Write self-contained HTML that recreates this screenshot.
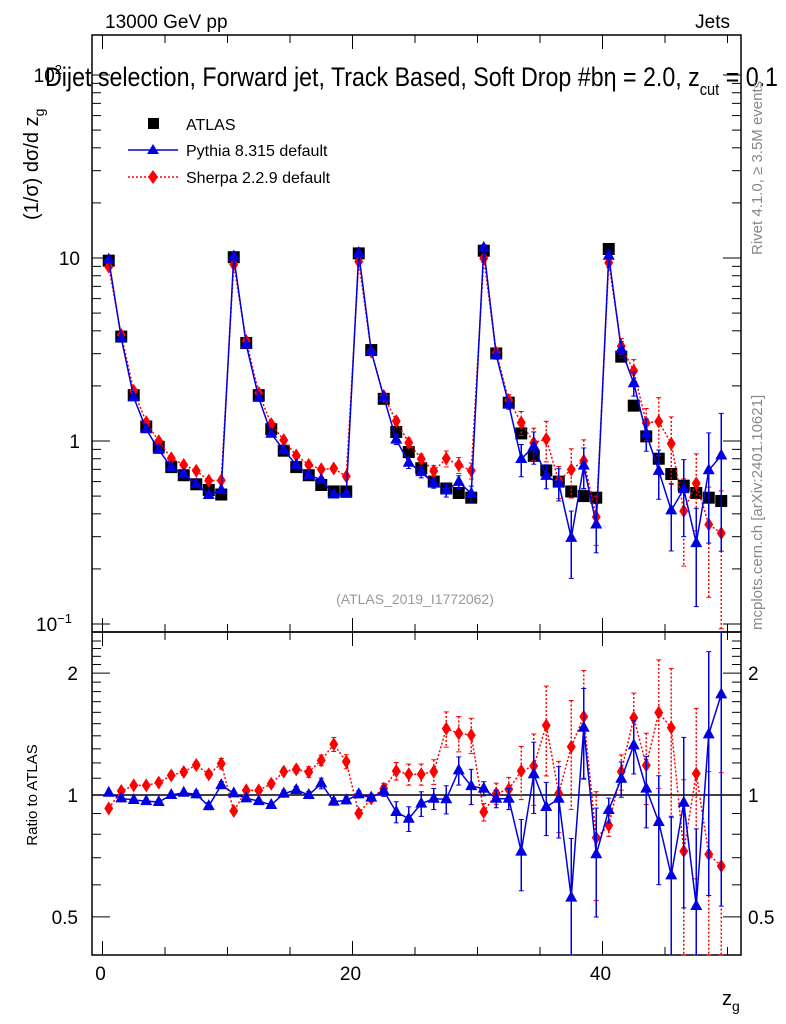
<!DOCTYPE html>
<html><head><meta charset="utf-8"><style>
body{margin:0;background:#fff;}
svg{display:block;font-family:"Liberation Sans",sans-serif;}
</style></head><body>
<svg id="c" width="786" height="1024" viewBox="0 0 786 1024">
<rect x="0" y="0" width="786" height="1024" fill="#fff"/>
<g id="frames"></g>
<g id="marks"></g>
<g id="texts">
<text x="105" y="28" font-size="19">13000 GeV pp</text>
<text x="730" y="28" font-size="19" text-anchor="end">Jets</text>
<text x="0" y="0" font-size="27" transform="translate(45,86) scale(0.86,1)">Dijet selection, Forward jet, Track Based, Soft Drop #bη = 2.0, z<tspan dy="9" font-size="17">cut</tspan><tspan dy="-9"> = 0.1</tspan></text>
<text x="0" y="0" font-size="20" transform="translate(38,220) rotate(-90)">(1/σ) dσ/d z<tspan dy="6" font-size="14">g</tspan></text>
<text x="0" y="0" font-size="15" fill="#888" transform="translate(762,255) rotate(-90)">Rivet 4.1.0, ≥ 3.5M events</text>
<text x="0" y="0" font-size="15" fill="#888" transform="translate(762,630) rotate(-90)">mcplots.cern.ch [arXiv:2401.10621]</text>
<text x="415" y="604" font-size="14" fill="#999" text-anchor="middle">(ATLAS_2019_I1772062)</text>
<text x="0" y="0" font-size="15" text-anchor="middle" transform="translate(37,795) rotate(-90)">Ratio to ATLAS</text>
<text x="722" y="1005" font-size="20">z<tspan dy="6" font-size="14">g</tspan></text>
<g>
<rect x="148" y="118" width="11" height="11" fill="#000"/>
<text x="186" y="130" font-size="16">ATLAS</text>
<line x1="128" y1="150" x2="178" y2="150" stroke="#0000e0" stroke-width="1.5"/>
<path d="M153,144 L159,154 L147,154Z" fill="#0000e0"/>
<text x="186" y="156" font-size="16">Pythia 8.315 default</text>
<line x1="128" y1="177" x2="178" y2="177" stroke="#f00" stroke-width="1.5" stroke-dasharray="2,2"/>
<path d="M153,170 L158,177 L153,184 L148,177Z" fill="#f00"/>
<text x="186" y="183" font-size="16">Sherpa 2.2.9 default</text>
</g>
</g>
</svg>
<script>
const atlas=[9.67,3.72,1.78,1.20,0.93,0.72,0.65,0.58,0.54,0.51,
10.1,3.43,1.78,1.16,0.885,0.72,0.65,0.575,0.53,0.53,
10.6,3.14,1.70,1.12,0.87,0.71,0.60,0.55,0.52,0.49,
10.96,3.01,1.62,1.10,0.83,0.69,0.60,0.53,0.50,0.49,
11.2,2.89,1.56,1.06,0.80,0.66,0.57,0.52,0.49,0.47];
const pythiaRatio=[1.013,0.981,0.972,0.966,0.961,1.0,1.013,1.004,0.939,1.058,
1.009,0.981,0.966,0.945,1.008,1.029,1.0,1.068,0.963,0.970,
1.004,0.985,1.023,0.908,0.874,0.952,0.979,0.976,1.150,1.052,
1.037,0.979,0.979,0.725,1.125,0.934,0.979,0.558,1.466,0.714,
0.918,1.097,1.326,1.037,0.858,0.633,0.957,0.532,1.412,1.772];
const sherpaRatio=[0.927,1.023,1.056,1.056,1.073,1.118,1.140,1.186,1.125,1.195,
0.913,1.027,1.027,1.066,1.142,1.157,1.140,1.218,1.334,1.209,
0.901,0.981,1.037,1.146,1.125,1.125,1.142,1.458,1.420,1.406,
0.908,1.009,1.033,1.146,1.179,1.486,1.009,1.316,1.561,0.784,
0.841,1.142,1.552,1.184,1.597,1.466,0.727,1.129,0.714,0.668];
const pythiaErr=[0.01,0.01,0.01,0.01,0.01,0.01,0.01,0.02,0.02,0.02,
0.01,0.01,0.01,0.01,0.02,0.02,0.02,0.03,0.02,0.02,
0.02,0.02,0.03,0.06,0.07,0.07,0.06,0.08,0.08,0.1,
0.04,0.05,0.06,0.2,0.2,0.15,0.2,0.4,0.25,0.3,
0.07,0.1,0.15,0.2,0.3,0.4,0.45,0.55,0.6,0.7];
const sherpaErr=[0.01,0.01,0.01,0.01,0.01,0.02,0.02,0.02,0.02,0.03,
0.01,0.01,0.01,0.02,0.02,0.02,0.03,0.03,0.04,0.04,
0.02,0.02,0.03,0.05,0.06,0.06,0.07,0.1,0.1,0.1,
0.05,0.06,0.07,0.15,0.2,0.25,0.2,0.3,0.3,0.3,
0.06,0.1,0.15,0.2,0.35,0.4,0.5,0.45,0.6,0.7];
const xTickLabels=["0","20","40"];
const ratioTickLabels=["0.5","1","2"];

const NS="http://www.w3.org/2000/svg";
const frames=document.getElementById('frames');
const marks=document.getElementById('marks');
function el(tag,attrs,parent){const e=document.createElementNS(NS,tag);for(const k in attrs)e.setAttribute(k,attrs[k]);parent.appendChild(e);return e;}
const L=92,R=741,T=35,MB=632,RB=955;
function xMain(z){return 102.5+12.5*z;}
function yMain(v){return 441-183*Math.log10(v);}
function xRatio(i){return xMain(i+0.5);}
function yRatio(r){return 795-405*Math.log10(r);}

let f=el('rect',{x:L,y:T,width:R-L,height:MB-T,fill:'none',stroke:'#000','stroke-width':1.5},frames);

f=el('rect',{x:L,y:MB,width:R-L,height:RB-MB,fill:'none',stroke:'#000','stroke-width':1.5},frames);

for(let z=0;z<=50;z+=5){const x=xMain(z);const len=(z%20==0)?14:8;
el('line',{x1:x,y1:MB,x2:x,y2:MB-len,stroke:'#000'},frames);el('line',{x1:x,y1:T,x2:x,y2:T+len,stroke:'#000'},frames);
el('line',{x1:x,y1:RB,x2:x,y2:RB-len,stroke:'#000'},frames);el('line',{x1:x,y1:MB,x2:x,y2:MB+len,stroke:'#000'},frames);}
for(let d=-2;d<=2;d++){for(let m=1;m<10;m++){const v=m*Math.pow(10,d);const y=yMain(v);if(y<T||y>MB)continue;const len=m==1?18:9;
el('line',{x1:L,y1:y,x2:L+len,y2:y,stroke:'#000'},frames);el('line',{x1:R,y1:y,x2:R-len,y2:y,stroke:'#000'},frames);}}
let t=el('text',{x:80,y:265,'font-size':19,'text-anchor':'end'},frames);t.textContent='10';

t=el('text',{x:80,y:448,'font-size':19,'text-anchor':'end'},frames);t.textContent='1';

t=el('text',{x:72,y:631,'font-size':19,'text-anchor':'end'},frames);t.innerHTML='10<tspan dy="-8" font-size="13">−1</tspan>';

t=el('text',{x:62,y:82,'font-size':19,'text-anchor':'end'},frames);t.innerHTML='10<tspan dy="-8" font-size="13">2</tspan>';

xTickLabels.forEach((s,i)=>{const tt=el('text',{x:xMain(20*i)-2,y:980,'font-size':19,'text-anchor':'middle'},frames);tt.textContent=s;
});
for(let r=0.4;r<=2.5;r+=0.1){const y=yRatio(r);if(y<MB||y>RB)continue;const major=Math.abs(r-0.5)<1e-6||Math.abs(r-1)<1e-6||Math.abs(r-2)<1e-6;const len=major?18:9;
el('line',{x1:L,y1:y,x2:L+len,y2:y,stroke:'#000'},frames);el('line',{x1:R,y1:y,x2:R-len,y2:y,stroke:'#000'},frames);}
ratioTickLabels.forEach(s=>{const y=yRatio(parseFloat(s))+7;
let a=el('text',{x:78,y:y,'font-size':19,'text-anchor':'end'},frames);a.textContent=s;

a=el('text',{x:748,y:y,'font-size':19},frames);a.textContent=s;
});
let ln=el('line',{x1:L,y1:yRatio(1),x2:R,y2:yRatio(1),stroke:'#000','stroke-width':1.5},frames);


function clampM(y){return Math.max(T,Math.min(MB,y));}
function clampR(y){return Math.max(MB,Math.min(RB,y));}
function tri(x,y,col,p,name){const e=el('path',{d:`M${x},${y-7} L${x+6},${y+4} L${x-6},${y+4}Z`,fill:col},p);}
function dia(x,y,col,p,name){const e=el('path',{d:`M${x},${y-7} L${x+4.5},${y} L${x},${y+7} L${x-4.5},${y}Z`,fill:col},p);}

const pyVals=atlas.map((v,i)=>v*pythiaRatio[i]);
const shVals=atlas.map((v,i)=>v*sherpaRatio[i]);
function drawSeries(vals,errs,xf,yf,cl,col,dash,kind,name,lo,hi){
  const pts=vals.map((v,i)=>[xf(i),yf(v)]);
  const pl=el('polyline',{points:pts.map(p=>p.join(',')).join(' '),fill:'none',stroke:col,'stroke-width':1.5,'stroke-dasharray':dash},marks);
  
  vals.forEach((v,i)=>{const x=xf(i);const y1=cl(yf(v*(1+errs[i]))),y2=cl(yf(Math.max(0.01,v*(1-errs[i]))));
    const eb=el('line',{x1:x,y1:y1,x2:x,y2:y2,stroke:col,'stroke-width':1.5,'stroke-dasharray':dash},marks);
    
    el('line',{x1:x-2.5,y1:y1,x2:x+2.5,y2:y1,stroke:col},marks);el('line',{x1:x-2.5,y1:y2,x2:x+2.5,y2:y2,stroke:col},marks);
    const y=yf(v);if(y>=lo&&y<=hi){kind==='tri'?tri(x,y,col,marks,name+'-point'):dia(x,y,col,marks,name+'-point');}
  });
}
atlas.forEach((v,i)=>{const r=el('rect',{x:xMain(i+0.5)-6,y:yMain(v)-6,width:12,height:12,fill:'#000'},marks);
});
drawSeries(shVals,sherpaErr,i=>xMain(i+0.5),yMain,clampM,'#f00','2,2','dia','sherpa-main',T,MB);
drawSeries(pyVals,pythiaErr,i=>xMain(i+0.5),yMain,clampM,'#0000e0','','tri','pythia-main',T,MB);
drawSeries(sherpaRatio,sherpaErr,xRatio,yRatio,clampR,'#f00','2,2','dia','sherpa-ratio',MB,RB);
drawSeries(pythiaRatio,pythiaErr,xRatio,yRatio,clampR,'#0000e0','','tri','pythia-ratio',MB,RB);
</script>
</body></html>
